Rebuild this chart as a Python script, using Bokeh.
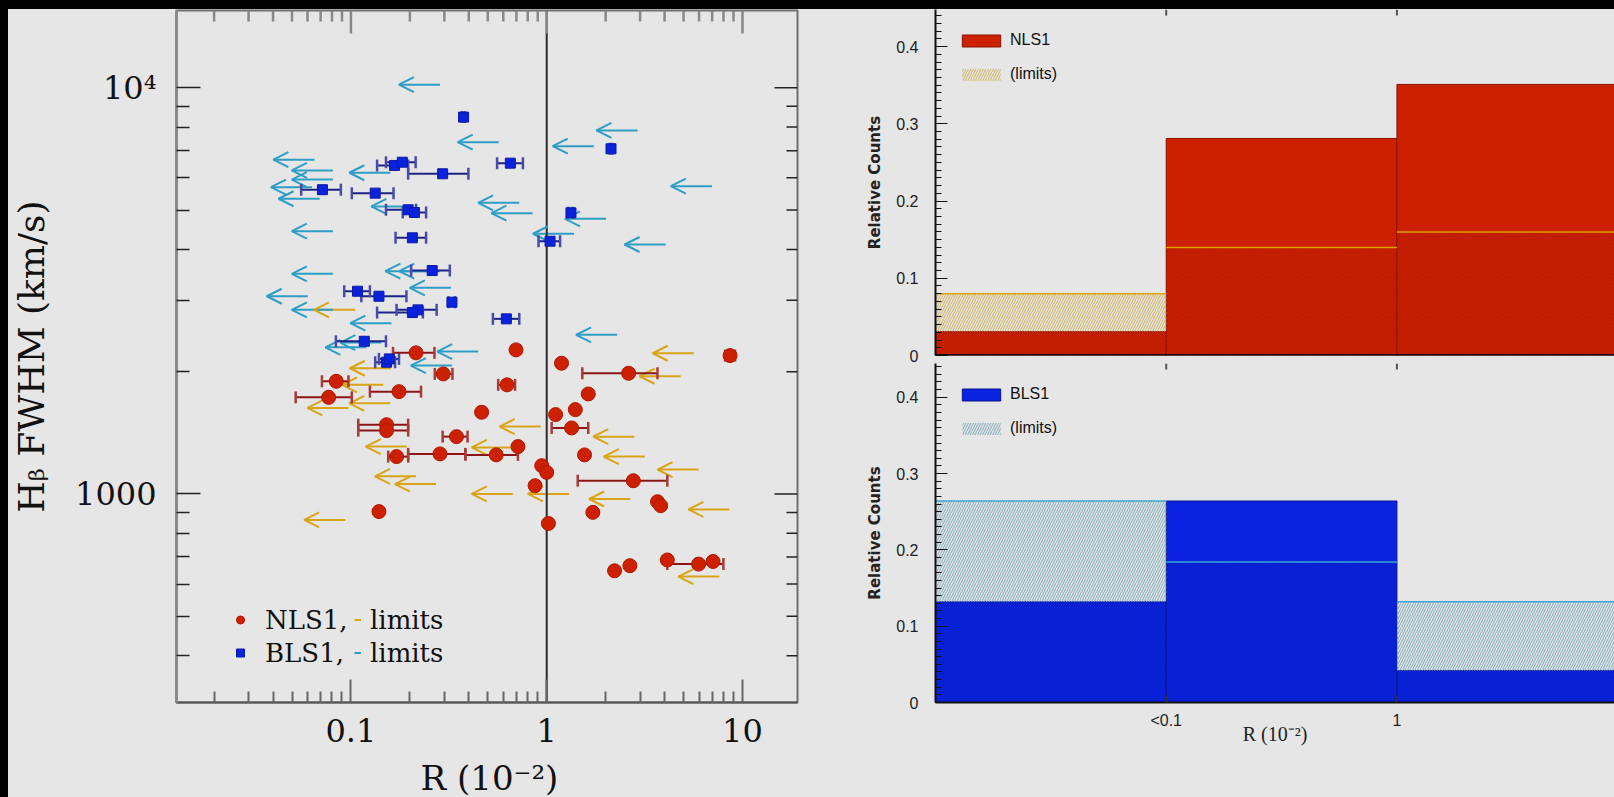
import numpy as np
from bokeh.plotting import figure
from bokeh.layouts import row, column
from bokeh.models import (ColumnDataSource, Range1d, FixedTicker, BasicTickFormatter, Arrow,
                          OpenHead, Whisker, TeeHead, Span, Legend, LegendItem, Div, Label)
from bokeh.embed import file_html
from bokeh.resources import INLINE

# ---------------- data: left panel (R in 1e-2, Hbeta FWHM in km/s) ----------------
nls1_r = [0.215, 0.296, 0.0841, 0.176, 0.0769, 0.152, 0.152, 0.346, 0.171, 0.285, 0.552,
          0.139, 0.697, 1.19, 0.627, 0.465, 0.713, 0.943, 1.00, 0.872, 1.02, 1.11, 1.40,
          1.63, 1.34, 1.56, 2.62, 2.77, 3.68, 3.82, 1.72, 8.64, 2.22, 2.66, 4.13, 5.97, 7.07]
nls1_fwhm = [2225, 1975, 1894, 1786, 1729, 1481, 1432, 1384, 1236, 1255, 1248,
             905, 2263, 2098, 1856, 1589, 1308, 1174, 1130, 1048, 846, 1568, 1613,
             1763, 1454, 1248, 1982, 1078, 957, 936, 901, 2191, 647, 666, 688, 672, 682]
nls1_r_lo = [0.164, 0.268, 0.0711, 0.125, 0.0522, 0.109, 0.109, 0.294, 0.155, 0.196, 0.384,
             None, None, None, 0.565, None, None, None, None, None, None, None, None,
             None, 1.06, None, 1.52, 1.44, None, None, None, 8.15, None, None, None, 4.13, None]
nls1_r_hi = [0.267, 0.330, 0.0971, 0.228, 0.101, 0.196, 0.196, 0.394, 0.196, 0.384, 0.713,
             None, None, None, 0.689, None, None, None, None, None, None, None, None,
             None, 1.63, None, 3.68, 4.13, None, None, None, 9.16, None, None, None, 7.99, None]

bls1_r = [0.167, 0.183, 0.294, 0.0715, 0.133, 0.196, 0.211, 0.206, 0.260, 0.108, 0.139,
          0.328, 0.220, 0.206, 0.117, 0.152, 0.157, 0.376, 0.652, 2.13, 1.33, 1.04, 0.622]
bls1_fwhm = [6437, 6556, 6140, 5610, 5502, 5006, 4930, 4271, 3548, 3155, 3067,
             2965, 2839, 2796, 2376, 2110, 2150, 8465, 6521, 7074, 4921, 4190, 2698]
bls1_r_lo = [0.136, 0.151, 0.196, 0.0557, 0.101, 0.151, 0.184, 0.169, 0.203, 0.0924, 0.113,
             0.315, 0.171, 0.136, 0.0838, 0.133, 0.139, 0.370, 0.558, 2.10, 1.29, 0.908, 0.531]
bls1_r_hi = [0.196, 0.214, 0.398, 0.0888, 0.165, 0.215, 0.242, 0.242, 0.320, 0.125, 0.192,
             0.340, 0.274, 0.233, 0.151, 0.168, 0.176, 0.381, 0.756, 2.17, 1.36, 1.17, 0.724]

# upper limits on R (arrow tails)
nls1_lim_r = [0.105, 0.160, 0.146, 0.159, 0.0971, 0.193, 0.215, 0.272, 0.0935, 0.932, 0.671,
              0.671, 1.30, 2.80, 3.17, 5.97, 2.67, 5.64, 4.83, 8.58, 7.63]
nls1_lim_fwhm = [2839, 2039, 1856, 1672, 1629, 1308, 1105, 1058, 863, 1465, 1302,
                 1000, 1000, 1384, 1236, 1148, 972, 2220, 1949, 916, 626]
bls1_lim_r = [0.285, 0.0651, 0.0809, 0.0809, 0.159, 0.0633, 0.0692, 0.206, 0.0809, 0.0809,
              0.243, 0.286, 0.0602, 0.0809, 0.161, 0.324, 0.120, 0.143, 0.447, 0.569,
              1.74, 2.91, 0.724, 0.846, 2.01, 1.38, 6.98, 4.05, 2.29, 0.328]
bls1_lim_fwhm = [10171, 6650, 6256, 5943, 6175, 5691, 5329, 5101, 4435, 3483,
                 3535, 3535, 3067, 2839, 2632, 3216, 2296, 2358, 2241, 7345,
                 7181, 7850, 5209, 4910, 4757, 4370, 5723, 4112, 2464, 2070]

x_tick_values = [0.1, 1, 10]
x_tick_labels = ["0.1", "1", "10"]
y_tick_values = [1000, 10000]
y_tick_labels = ["1000", "10\u2074"]
x_title = "R (10\u207b\u00b2)"
y_title = "H\u1d66 FWHM (km/s)"

# ---------------- data: right panels (relative counts per bin of log R) ----------------
hist_edges = [-2, -1, 0, 1]
hist_tick_values = [-1, 0, 1]
hist_tick_labels = ["<0.1", "1", "10"]
nls1_hist = [0.031, 0.281, 0.351]
nls1_hist_limits = [0.080, 0.140, 0.160]
bls1_hist = [0.132, 0.264, 0.042]
bls1_hist_limits = [0.264, 0.184, 0.132]

# ---------------- styles ----------------
BG = "#e6e6e6"
RED = "#cc2000"
BLUE = "#0b22dd"
GOLD = "#d9a516"
TEAL = "#2e9ec6"
SERIF = "DejaVu Serif"
ARROW_FACTOR = 0.617   # arrow length on the log axis (about 41 px)
X_MIN, X_MAX = 0.01285, 19.1
Y_MIN, Y_MAX = 306.7, 15490

minor_x = [k * 10.0 ** e for e in (-2, -1, 0, 1) for k in range(2, 10)]
minor_y = [k * 10.0 ** e for e in (2, 3, 4) for k in range(2, 10)]

p = figure(width=793, height=746, x_axis_type="log", y_axis_type="log",
           x_range=Range1d(X_MIN, X_MAX), y_range=Range1d(Y_MIN, Y_MAX),
           output_backend="svg", toolbar_location=None,
           background_fill_color=BG, border_fill_color=BG,
           outline_line_color="#6e6e6e", outline_line_width=2,
           min_border_left=163, min_border_right=4, min_border_top=1, min_border_bottom=53,
           y_axis_label=y_title)
p.grid.visible = False


def style_axis(ax, ticks, minors, labels, major_in, minor_in, color, lw, axis_color, axis_w):
    ax.ticker = FixedTicker(ticks=ticks, minor_ticks=minors)
    ax.formatter = BasicTickFormatter()
    ax.major_tick_in = major_in
    ax.major_tick_out = 0
    ax.minor_tick_in = minor_in
    ax.minor_tick_out = 0
    ax.major_tick_line_color = color
    ax.minor_tick_line_color = color
    ax.major_tick_line_width = lw
    ax.minor_tick_line_width = lw
    ax.axis_line_color = axis_color
    ax.axis_line_width = axis_w
    ax.major_label_overrides = dict(zip(ticks, labels))
    ax.major_label_text_font = SERIF
    ax.major_label_text_font_size = "32px"
    ax.major_label_text_color = "#111111"
    ax.axis_label_text_font = SERIF
    ax.axis_label_text_font_size = "36px"
    ax.axis_label_text_font_style = "normal"
    ax.axis_label_text_color = "#111111"


style_axis(p.xaxis[0], x_tick_values, minor_x, x_tick_labels, 23, 11, "#666666", 2, "#555555", 2)
p.xaxis[0].major_label_standoff = 16
style_axis(p.yaxis[0], y_tick_values, minor_y, y_tick_labels, 24, 13, "#222222", 1.5, "#8a8a8a", 3)
p.yaxis[0].major_label_standoff = 20
p.yaxis[0].axis_label_standoff = 20

# mirrored ticks on the top and right edges of the frame
p.ray(x=x_tick_values, y=Y_MAX, length=23, length_units="screen", angle=-np.pi / 2,
      line_color="#888888", line_width=2.5)
p.ray(x=minor_x, y=Y_MAX, length=11, length_units="screen", angle=-np.pi / 2,
      line_color="#888888", line_width=2.5)
p.ray(x=X_MAX, y=y_tick_values, length=23, length_units="screen", angle=np.pi,
      line_color="#222222", line_width=1.5)
p.ray(x=X_MAX, y=minor_y, length=11, length_units="screen", angle=np.pi,
      line_color="#222222", line_width=1.5)

p.add_layout(Span(location=1, dimension="height", line_color="#2a2a2a", line_width=2, level="underlay"))


# limit arrows: shafts as segments, heads as arrow annotations
def draw_limits(r, f, color):
    r = np.array(r, dtype=float)
    f = np.array(f, dtype=float)
    tip = r * ARROW_FACTOR
    seg = p.segment(x0=r, y0=f, x1=tip, y1=f, line_color=color, line_width=2, level="underlay")
    src = ColumnDataSource(dict(xs=r, ys=f, xe=tip, ye=f))
    p.add_layout(Arrow(source=src, x_start="xs", y_start="ys", x_end="xe", y_end="ye",
                       line_alpha=0, level="underlay",
                       end=OpenHead(size=15, line_color=color, line_width=2)))
    return seg


seg_nls1 = draw_limits(nls1_lim_r, nls1_lim_fwhm, GOLD)
seg_bls1 = draw_limits(bls1_lim_r, bls1_lim_fwhm, TEAL)


def draw_errors(r, f, lo, hi, color, cap_color):
    idx = [i for i in range(len(r)) if lo[i] is not None]
    src = ColumnDataSource(dict(base=[f[i] for i in idx], lower=[lo[i] for i in idx],
                                upper=[hi[i] for i in idx]))
    p.add_layout(Whisker(source=src, base="base", lower="lower", upper="upper",
                         dimension="width", line_color=color, line_width=2, level="underlay",
                         lower_head=TeeHead(size=12, line_color=cap_color, line_width=2.5),
                         upper_head=TeeHead(size=12, line_color=cap_color, line_width=2.5)))


draw_errors(bls1_r, bls1_fwhm, bls1_r_lo, bls1_r_hi, "#1c2385", "#4a4aa8")
draw_errors(nls1_r, nls1_fwhm, nls1_r_lo, nls1_r_hi, "#8b1414", "#a83a3a")

r_bls1 = p.scatter(bls1_r, bls1_fwhm, marker="square", size=10, fill_color=BLUE, line_color="#0a1aa8")
r_nls1 = p.scatter(nls1_r, nls1_fwhm, marker="circle", size=14, fill_color=RED, line_color="#b01800")


def serif_legend(items, loc, gw, standoff):
    lg = Legend(items=items, location=loc, background_fill_alpha=0, border_line_color=None,
                padding=0, margin=0, spacing=0, glyph_height=33, label_height=33,
                glyph_width=gw, label_standoff=standoff,
                label_text_font=SERIF, label_text_font_size="26px", label_text_color="#111111")
    p.add_layout(lg)


serif_legend([LegendItem(label="NLS1,", renderers=[r_nls1]),
              LegendItem(label="BLS1,", renderers=[r_bls1])], (54, 33), 20, 15)
serif_legend([LegendItem(label="limits", renderers=[seg_nls1]),
              LegendItem(label="limits", renderers=[seg_bls1])], (178, 33), 7, 9)

# strip below the left plot that carries the R title; its frame is aligned with the plot's
xt = figure(width=793, height=42, x_range=Range1d(0, 1), y_range=Range1d(0, 1),
            output_backend="svg", toolbar_location=None, x_axis_location=None,
            y_axis_location=None, background_fill_color=BG, border_fill_color=BG,
            outline_line_color=None, min_border=0)
xt.grid.visible = False
xt.add_layout(Label(x=313, y=20, x_units="screen", y_units="screen", text=x_title,
                    text_align="center", text_baseline="middle", text_font=SERIF,
                    text_font_size="34px", text_color="#111111"))

# ---------------- right panels ----------------
hx = Range1d(-2, 0.943)


def hist_fig(height, y_end, border_bottom):
    f = figure(width=813, height=height, x_range=hx, y_range=Range1d(0, y_end),
               output_backend="svg", toolbar_location=None,
               background_fill_color=BG, border_fill_color=BG, outline_line_color=None,
               min_border_left=134, min_border_right=0, min_border_top=0,
               min_border_bottom=border_bottom)
    f.grid.visible = False
    ya = f.yaxis[0]
    ya.ticker = FixedTicker(ticks=[0, 0.1, 0.2, 0.3, 0.4], minor_ticks=[i / 100 for i in range(46)])
    ya.major_tick_in = 12
    ya.major_tick_out = 0
    ya.minor_tick_in = 6
    ya.minor_tick_out = 0
    ya.major_tick_line_color = "#111111"
    ya.minor_tick_line_color = "#111111"
    ya.axis_line_color = "#111111"
    ya.axis_line_width = 2
    ya.major_label_text_font = "Liberation Sans"
    ya.major_label_text_font_size = "16px"
    ya.major_label_text_color = "#222222"
    ya.major_label_standoff = 17
    ya.axis_label = "Relative Counts"
    ya.axis_label_text_font = "DejaVu Sans"
    ya.axis_label_text_font_size = "15px"
    ya.axis_label_text_font_style = "bold"
    ya.axis_label_text_color = "#222222"
    ya.axis_label_standoff = 9
    # ticks hanging from the top edge
    f.ray(x=hist_tick_values, y=y_end, length=6, length_units="screen", angle=-np.pi / 2,
          line_color="#555555", line_width=2)
    return f


def draw_hist(f, solid, limits, solid_color, solid_line, hatch_light, hatch_dark, lim_line, name):
    left = hist_edges[:-1]
    right = hist_edges[1:]
    solid = np.array(solid)
    limits = np.array(limits)
    r_solid = f.quad(left=left, right=right, bottom=0, top=solid, fill_color=solid_color,
                     line_color=solid_line, line_width=1)
    f.quad(left=left, right=right, bottom=0, top=np.minimum(solid, limits), fill_alpha=0,
           line_alpha=0, hatch_pattern="/", hatch_color=hatch_dark, hatch_scale=5,
           hatch_weight=1, hatch_alpha=0.6)
    r_lim = f.quad(left=left, right=right, bottom=solid, top=np.maximum(solid, limits),
                   fill_alpha=0, line_alpha=0, hatch_pattern="/", hatch_color=hatch_light,
                   hatch_scale=5, hatch_weight=1.2)
    f.segment(x0=left, x1=right, y0=limits, y1=limits, line_color=lim_line, line_width=1.5)
    lg = Legend(items=[LegendItem(label=name, renderers=[r_solid]),
                       LegendItem(label="(limits)", renderers=[r_lim])],
                location="top_left", margin=22, padding=0, spacing=16,
                glyph_width=48, glyph_height=15, label_height=15, label_standoff=5,
                background_fill_alpha=0, border_line_color=None,
                label_text_font="Liberation Sans", label_text_font_size="16px",
                label_text_color="#111111")
    f.add_layout(lg)


# top histogram: frame from y=9 to y=355 of the page, 8 px of border below
ht = hist_fig(354, 0.448, 8)
ht.xaxis.visible = False
ht.add_layout(Span(location=0, dimension="width", line_color="#111111", line_width=3))
ht.ray(x=hist_tick_values, y=0, length=8, length_units="screen", angle=np.pi / 2,
       line_color="#333333", line_width=2)
draw_hist(ht, nls1_hist, nls1_hist_limits, RED, "#8a1200", "#d2bd7a", "#a01400", "#e0a000", "NLS1")

# bottom histogram with the shared R axis
hb = hist_fig(434, 0.4442, 95)
xb = hb.xaxis[0]
xb.ticker = FixedTicker(ticks=hist_tick_values, minor_ticks=[])
xb.major_tick_in = 7
xb.major_tick_out = 0
xb.major_tick_line_color = "#333333"
xb.major_tick_line_width = 2
xb.axis_line_color = "#111111"
xb.axis_line_width = 2
xb.major_label_overrides = dict(zip(hist_tick_values, hist_tick_labels))
xb.major_label_text_font = "Liberation Sans"
xb.major_label_text_font_size = "16px"
xb.major_label_text_color = "#222222"
xb.major_label_standoff = 9
xb.axis_label = x_title
xb.axis_label_text_font = "Liberation Serif"
xb.axis_label_text_font_size = "20px"
xb.axis_label_text_font_style = "normal"
xb.axis_label_text_color = "#222222"
xb.axis_label_standoff = -9
draw_hist(hb, bls1_hist, bls1_hist_limits, "#0a23e0", "#06158a", "#93b7c3", "#0418b0", "#3aa6d6", "BLS1")

# page: black strips on top and left, panels side by side
top_strip = Div(width=1614, height=9, margin=0, styles={"background-color": "black"})
left_strip = Div(width=8, height=788, margin=0, styles={"background-color": "black"})
for f in (p, xt, ht, hb):
    f.margin = 0
left_col = column(p, xt, spacing=0, margin=0, styles={"background-color": BG})
right_col = column(ht, hb, spacing=0, margin=0, styles={"background-color": BG})
body = row(left_strip, left_col, right_col, spacing=0, margin=0)
root = column(top_strip, body, spacing=0, margin=0, styles={"background-color": "#b5b5b5"})

open("out.html", "w").write(file_html(root, INLINE))
